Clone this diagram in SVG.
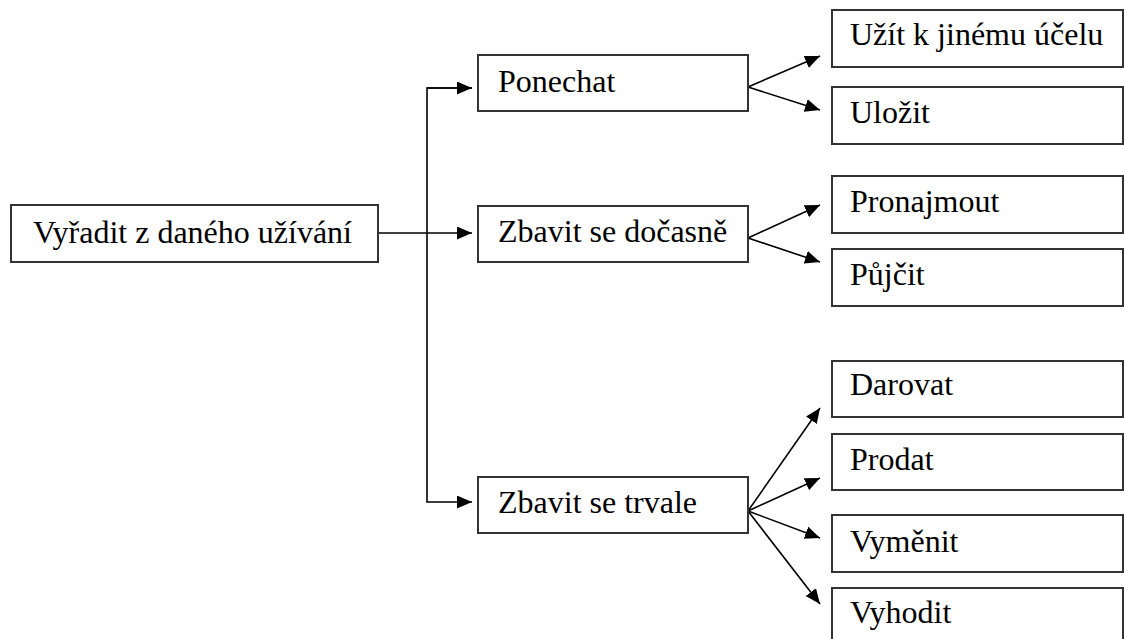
<svg xmlns="http://www.w3.org/2000/svg" width="1124" height="639" viewBox="0 0 1124 639">
<style>
.box{fill:#fff;stroke:#333;stroke-width:2}
.t{font-family:"Liberation Serif","Times New Roman",serif;font-size:32px;fill:#000}
.c{fill:none;stroke:#000;stroke-width:1.6}
</style>
<defs>
<marker id="ah" markerUnits="userSpaceOnUse" markerWidth="16" markerHeight="14" refX="15" refY="6.5" orient="auto">
<path d="M0,0 L15,6.5 L0,13 z" fill="#000"/>
</marker>
</defs>
<rect width="1124" height="639" fill="#fff"/>
<g id="connectors">
<path class="c" d="M378,233 H472" marker-end="url(#ah)"/>
<path class="c" d="M472,88 H427 V502 H472" marker-end="url(#ah)"/>
<path class="c" d="M427,88 H472" marker-end="url(#ah)"/>
<path class="c" d="M748,87 L820,56" marker-end="url(#ah)"/>
<path class="c" d="M748,87 L820,110" marker-end="url(#ah)"/>
<path class="c" d="M748,238 L820,205" marker-end="url(#ah)"/>
<path class="c" d="M748,238 L820,262" marker-end="url(#ah)"/>
<path class="c" d="M748,511 L820,408" marker-end="url(#ah)"/>
<path class="c" d="M748,511 L820,478" marker-end="url(#ah)"/>
<path class="c" d="M748,511 L820,538" marker-end="url(#ah)"/>
<path class="c" d="M748,511 L820,604" marker-end="url(#ah)"/>
</g>
<g id="n-root"><rect class="box" x="11" y="205" width="367" height="57"/><text class="t" x="33" y="243">Vyřadit z daného užívání</text></g>
<g id="n-ponechat"><rect class="box" x="478" y="55" width="270" height="56"/><text class="t" x="498" y="92">Ponechat</text></g>
<g id="n-docasne"><rect class="box" x="478" y="206" width="270" height="56"/><text class="t" x="498" y="242">Zbavit se dočasně</text></g>
<g id="n-trvale"><rect class="box" x="478" y="477" width="270" height="56"/><text class="t" x="498" y="513">Zbavit se trvale</text></g>
<g id="n-uzit"><rect class="box" x="832" y="10" width="291" height="57"/><text class="t" x="850" y="45">Užít k jinému účelu</text></g>
<g id="n-ulozit"><rect class="box" x="832" y="87" width="291" height="57"/><text class="t" x="850" y="123">Uložit</text></g>
<g id="n-pronajmout"><rect class="box" x="832" y="176" width="291" height="57"/><text class="t" x="850" y="212">Pronajmout</text></g>
<g id="n-pujcit"><rect class="box" x="832" y="249" width="291" height="57"/><text class="t" x="850" y="285">Půjčit</text></g>
<g id="n-darovat"><rect class="box" x="832" y="361" width="291" height="56"/><text class="t" x="850" y="395">Darovat</text></g>
<g id="n-prodat"><rect class="box" x="832" y="434" width="291" height="56"/><text class="t" x="850" y="470">Prodat</text></g>
<g id="n-vymenit"><rect class="box" x="832" y="515" width="291" height="57"/><text class="t" x="850" y="552">Vyměnit</text></g>
<g id="n-vyhodit"><rect class="box" x="832" y="588" width="291" height="60"/><text class="t" x="850" y="623">Vyhodit</text></g>
</svg>
